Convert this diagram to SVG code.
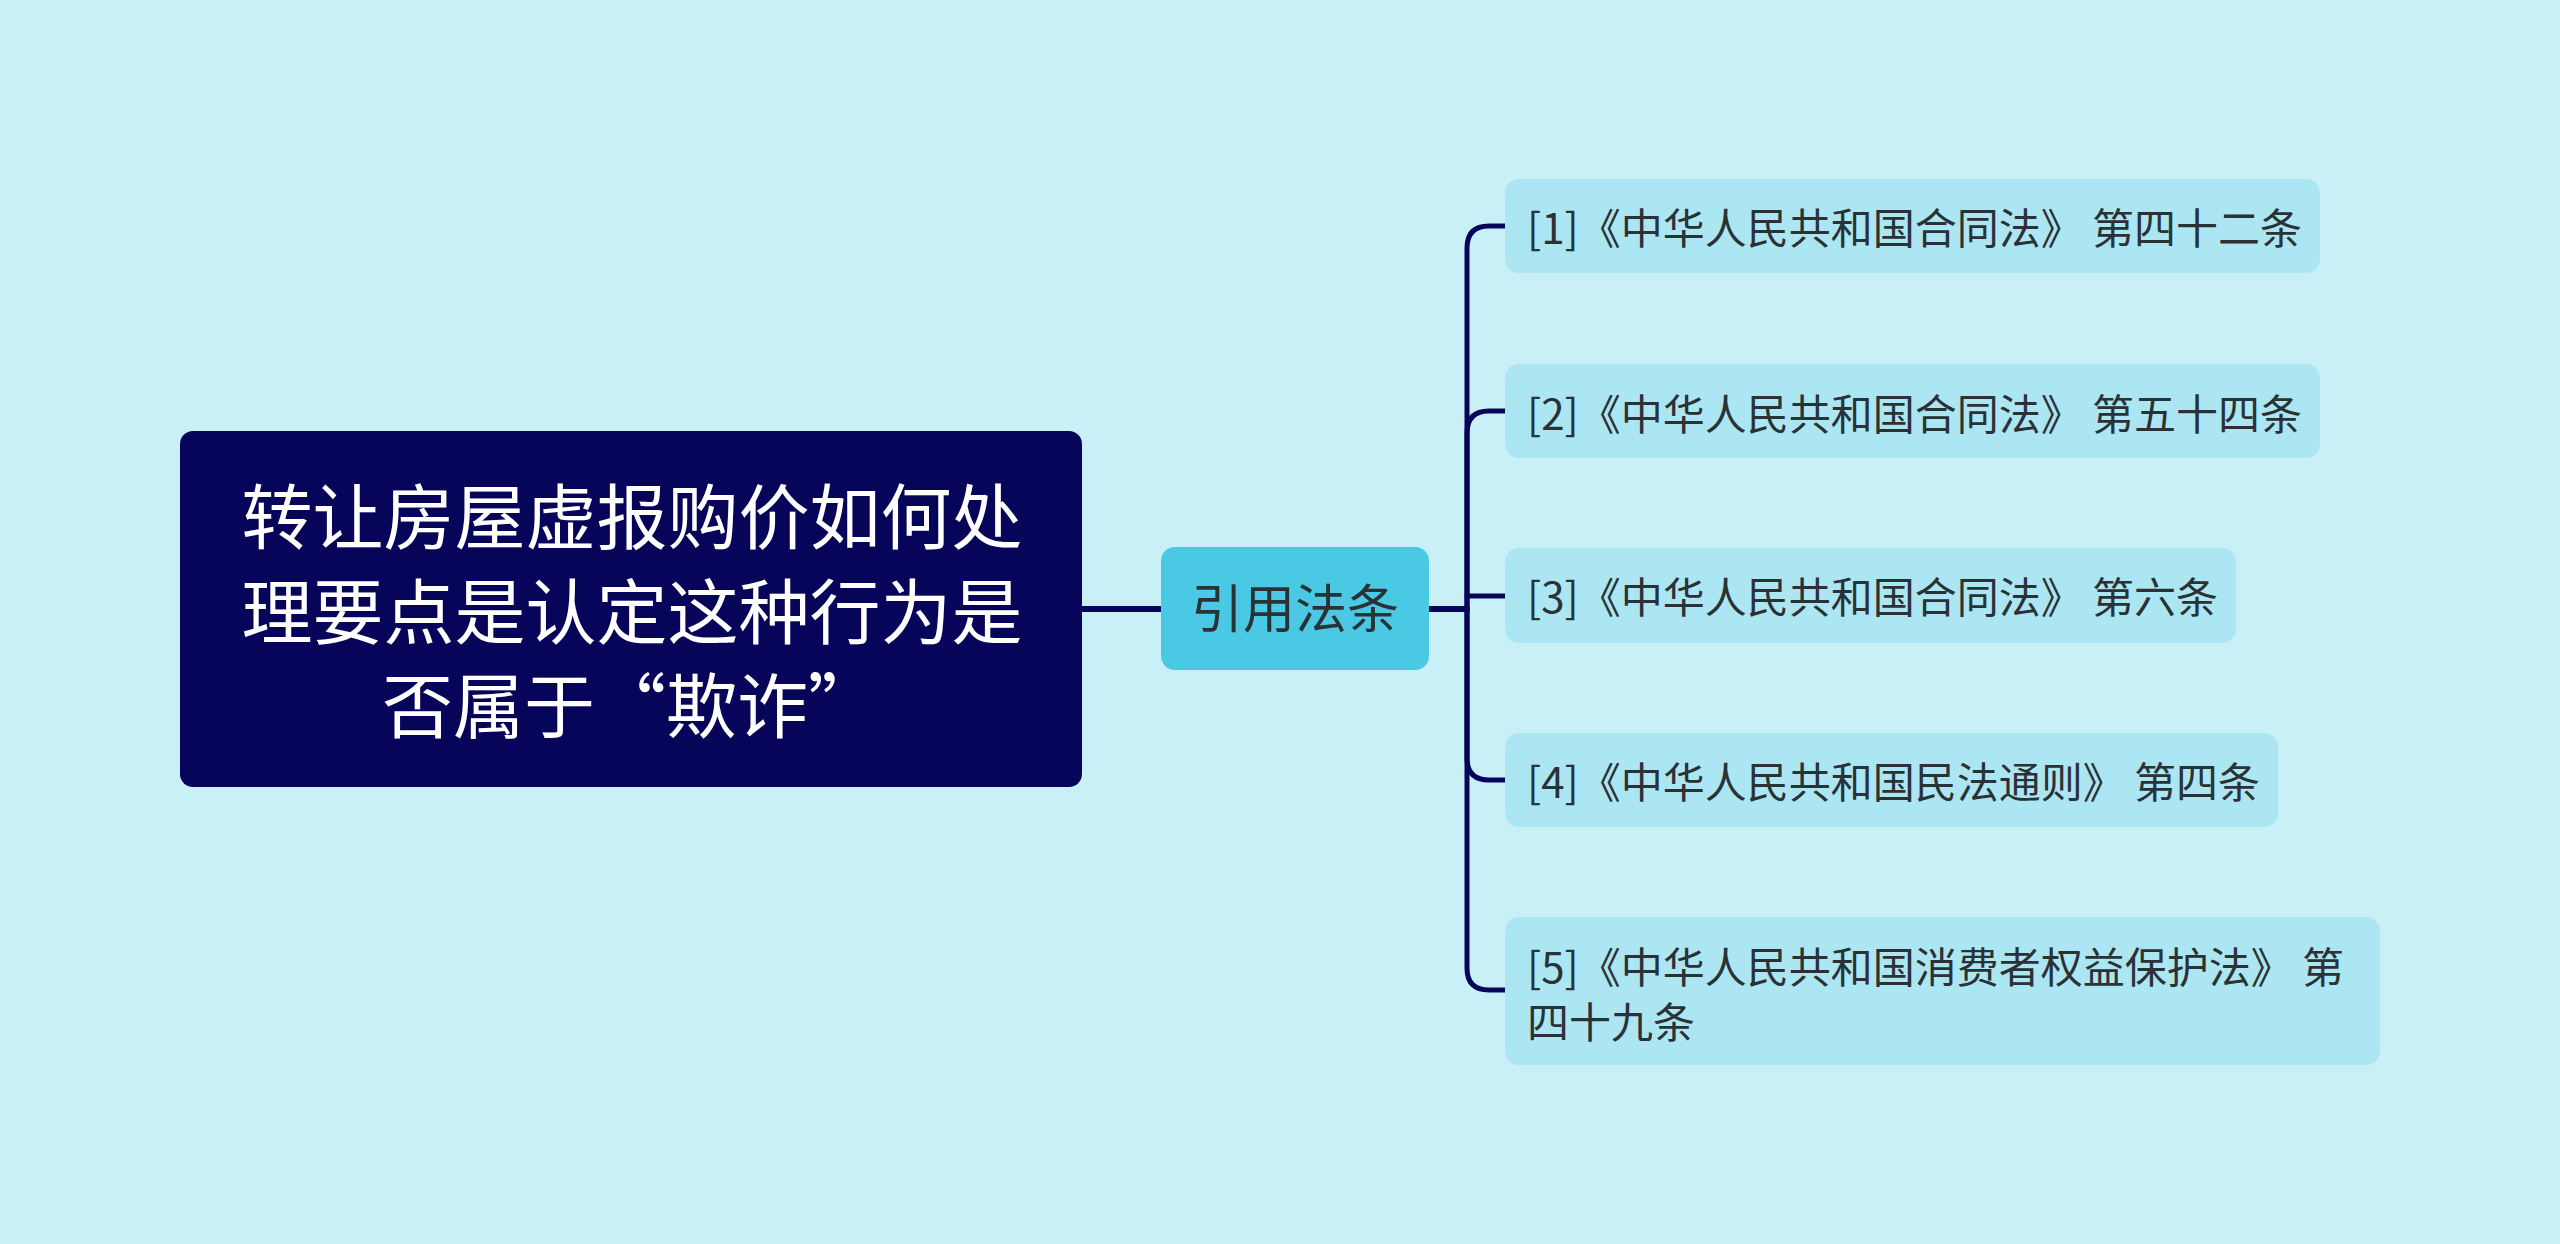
<svg xmlns="http://www.w3.org/2000/svg" width="2560" height="1244" viewBox="0 0 2560 1244">
<style>
.bg{fill:#C9F0F7}
.root{fill:#07055A}
.mid{fill:#49C9E3}
.leaf{fill:#ADE6F3}
.t{font-family:"Noto Sans CJK SC","Noto Sans",sans-serif}
.rt{fill:#FFFFFF;font-size:71px}
.mt{fill:#2A3236;font-size:52px}
.lt{fill:#2A3236;font-size:42px}
.ln{fill:none;stroke:#07055A;stroke-linecap:round;stroke-linejoin:round}
</style>
<rect class="bg" x="0" y="0" width="2560" height="1244"/>
<g id="connectors">
<path class="ln" stroke-width="6" d="M1082 609 H1161"/>
<path class="ln" stroke-width="6" d="M1429 609 H1467"/>
<path class="ln" stroke-width="5" d="M1467 609 V248 Q1467 226 1489 226 H1505"/>
<path class="ln" stroke-width="5" d="M1467 609 V433 Q1467 411 1489 411 H1505"/>
<path class="ln" stroke-width="5" d="M1467 596 H1505"/>
<path class="ln" stroke-width="5" d="M1467 609 V758 Q1467 780 1489 780 H1505"/>
<path class="ln" stroke-width="5" d="M1467 609 V968 Q1467 990 1489 990 H1505"/>
</g>
<g id="root">
<rect class="root" x="180" y="431" width="902" height="356" rx="13"/>
<text class="t rt" x="632" y="543" text-anchor="middle">转让房屋虚报购价如何处</text>
<text class="t rt" x="632" y="638" text-anchor="middle">理要点是认定这种行为是</text>
<text class="t rt" x="382" y="732">否属于“欺诈”</text>
</g>
<g id="center">
<rect class="mid" x="1161" y="547" width="268" height="123" rx="14"/>
<text class="t mt" x="1295" y="628" text-anchor="middle">引用法条</text>
</g>
<g id="law1">
<rect class="leaf" x="1505" y="179" width="815" height="94" rx="14"/>
<text class="t lt" x="1527" y="244">[1]《中华人民共和国合同法》 第四十二条</text>
</g>
<g id="law2">
<rect class="leaf" x="1505" y="364" width="815" height="94" rx="14"/>
<text class="t lt" x="1527" y="430">[2]《中华人民共和国合同法》 第五十四条</text>
</g>
<g id="law3">
<rect class="leaf" x="1505" y="548" width="731" height="95" rx="14"/>
<text class="t lt" x="1527" y="613">[3]《中华人民共和国合同法》 第六条</text>
</g>
<g id="law4">
<rect class="leaf" x="1505" y="733" width="773" height="94" rx="14"/>
<text class="t lt" x="1527" y="798">[4]《中华人民共和国民法通则》 第四条</text>
</g>
<g id="law5">
<rect class="leaf" x="1505" y="917" width="875" height="148" rx="14"/>
<text class="t lt" x="1527" y="983">[5]《中华人民共和国消费者权益保护法》 第</text>
<text class="t lt" x="1527" y="1038">四十九条</text>
</g>
</svg>
